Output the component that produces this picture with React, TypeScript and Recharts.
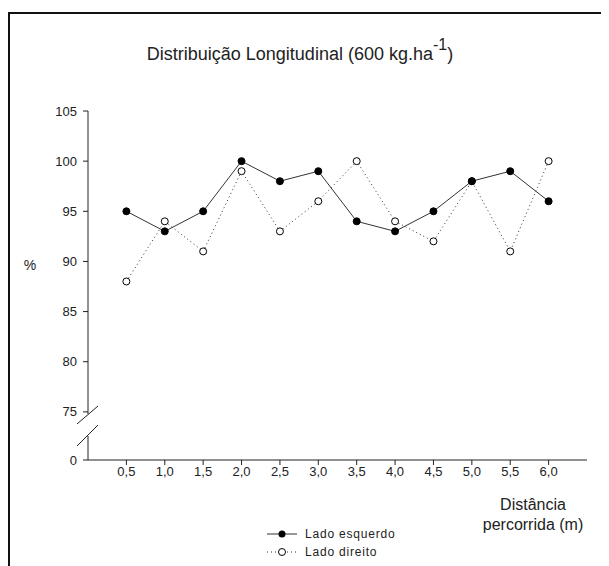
import { LineChart, Line, XAxis, YAxis, Legend } from "recharts";

const distances = [0.5, 1.0, 1.5, 2.0, 2.5, 3.0, 3.5, 4.0, 4.5, 5.0, 5.5, 6.0];
const ladoEsquerdo = [95, 93, 95, 100, 98, 99, 94, 93, 95, 98, 99, 96];
const ladoDireito = [88, 94, 91, 99, 93, 96, 100, 94, 92, 98, 91, 100];

// the axis is broken between 0 and 75; "0" sits just below the break
const yTicks = [70.2, 75, 80, 85, 90, 95, 100, 105];
const yTickLabels = ["0", "75", "80", "85", "90", "95", "100", "105"];

const data = distances.map((d, i) => ({
  dist: d,
  esq: ladoEsquerdo[i],
  dir: ladoDireito[i],
}));

const FONT = "'Liberation Sans', Arial, sans-serif";
const INK = "#222";

const fmtDist = (v: number) => v.toFixed(1).replace(".", ",");
const fmtY = (v: number) => yTickLabels[yTicks.indexOf(v)] ?? String(v);

const renderLegend = () => (
  <svg width={200} height={40} style={{ display: "block" }}>
    <g fontFamily={FONT} fontSize={12} fill={INK} letterSpacing={0.8}>
      <line x1={0} y1={8} x2={30} y2={8} stroke="#333" strokeWidth={1} />
      <circle cx={15} cy={8} r={3.5} fill="#000" />
      <text x={38} y={12}>Lado esquerdo</text>
      <line x1={0} y1={26} x2={30} y2={26} stroke="#333" strokeDasharray="1 3" />
      <circle cx={15} cy={26} r={3.5} fill="#fff" stroke="#000" />
      <text x={38} y={30}>Lado direito</text>
    </g>
  </svg>
);

export default function App() {
  return (
    <div style={{ position: "relative", width: 601, height: 558 }}>
      <LineChart
        width={601}
        height={558}
        data={data}
        margin={{ top: 103, right: 22, bottom: 36, left: 0 }}
      >
        <XAxis
          dataKey="dist"
          type="number"
          domain={[0, 6.5]}
          ticks={distances}
          tickFormatter={fmtDist}
          interval={0}
          height={30}
          tickSize={5}
          stroke={INK}
          tick={{ fill: INK, fontSize: 13, fontFamily: FONT }}
        />
        <YAxis
          type="number"
          domain={[70.2, 105]}
          ticks={yTicks}
          tickFormatter={fmtY}
          interval={0}
          width={80}
          tickSize={5}
          tickMargin={6}
          stroke={INK}
          tick={{ fill: INK, fontSize: 13, fontFamily: FONT }}
        />
        <Legend
          content={renderLegend}
          wrapperStyle={{ left: 259, top: 518, width: 200, bottom: "auto" }}
        />
        <Line
          dataKey="dir"
          name="Lado direito"
          stroke="#333"
          strokeWidth={1}
          strokeDasharray="1 3"
          dot={{ r: 3.5, fill: "#fff", stroke: "#000", strokeWidth: 1, strokeDasharray: "" }}
          activeDot={false}
          isAnimationActive={false}
        />
        <Line
          dataKey="esq"
          name="Lado esquerdo"
          stroke="#333"
          strokeWidth={1}
          dot={{ r: 3.5, fill: "#000", stroke: "#000", strokeWidth: 1 }}
          activeDot={false}
          isAnimationActive={false}
        />
      </LineChart>
      <svg
        width={601}
        height={558}
        style={{ position: "absolute", left: 0, top: 0, pointerEvents: "none" }}
      >
        <line x1={1} y1={5} x2={601} y2={5} stroke="#111" strokeWidth={2} />
        <line x1={1} y1={4} x2={1} y2={558} stroke="#111" strokeWidth={2} />
        {/* axis break */}
        <rect x={77} y={406} width={6} height={22} fill="#fff" />
        <line x1={69} y1={416} x2={90} y2={398} stroke={INK} strokeWidth={1} />
        <line x1={69} y1={438} x2={90} y2={417} stroke={INK} strokeWidth={1} />
        <g fontFamily={FONT} fill={INK}>
          <text x={292} y={52} fontSize={18} textAnchor="middle">
            Distribuição Longitudinal (600 kg.ha
            <tspan dy={-10} fontSize={16}>-1</tspan>
            <tspan dy={10}>)</tspan>
          </text>
          <text x={22} y={262} fontSize={14} textAnchor="middle">%</text>
          <text x={525} y={502} fontSize={16} textAnchor="middle">Distância</text>
          <text x={525} y={522} fontSize={16} textAnchor="middle">percorrida (m)</text>
        </g>
      </svg>
    </div>
  );
}
